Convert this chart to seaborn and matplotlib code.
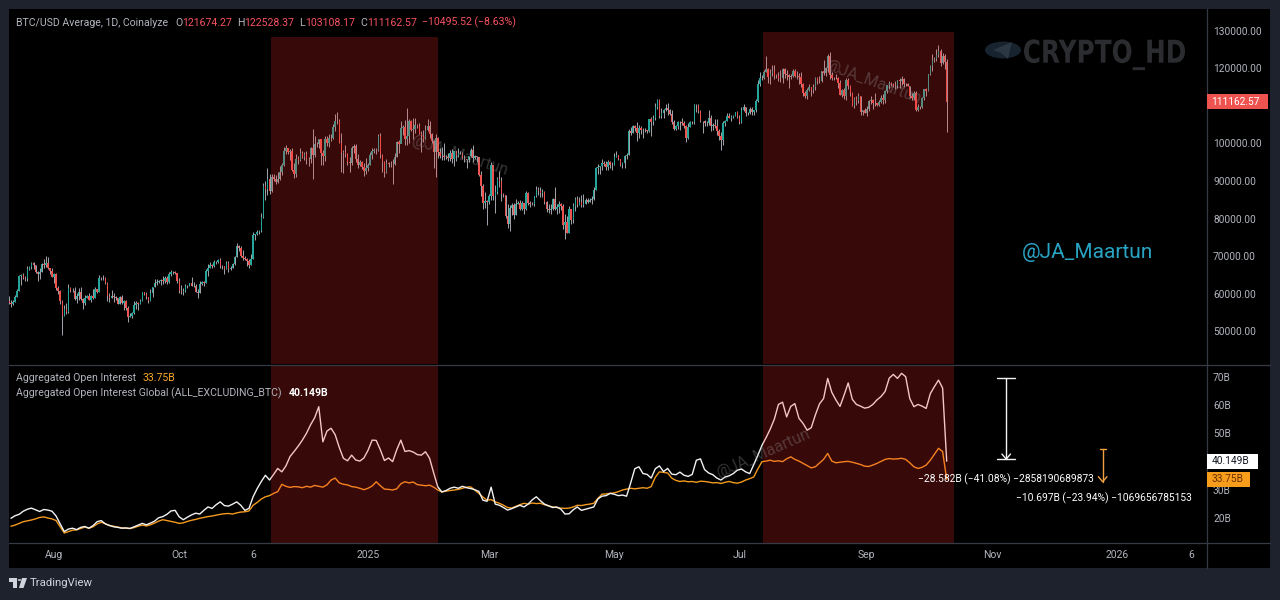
import numpy as np
import pandas as pd
import matplotlib
matplotlib.use("Agg")
import matplotlib.pyplot as plt
import matplotlib.dates as mdates
from matplotlib.lines import Line2D
from matplotlib.patches import Rectangle, Circle, Polygon, PathPatch
from matplotlib.textpath import TextPath
from matplotlib.font_manager import FontProperties
from matplotlib.transforms import Affine2D
import seaborn as sns

W, H = 1280, 600

# BTC/USD daily candles in thousands of USD, first candle 2024-07-10
first_open = 58.0
close = [
    57.7, 57.3, 57.9, 59.2, 60.8, 64.8, 65.1, 64.1, 63.9, 66.7, 67.1, 68.2, 67.6, 65.9, 65.4, 65.8, 67.9, 67.8, 68.3, 66.8, 66.2, 64.6,
    65.4, 61.5, 60.7, 58.1, 54.0, 56.0, 55.1, 61.7, 60.9, 60.9, 58.7, 59.4, 60.6, 58.7, 57.5, 58.9, 59.5, 58.4, 59.5, 59.0, 61.2, 60.4, 64.1, 64.2, 64.2, 62.8, 59.4, 59.0, 59.4, 59.1, 58.9,
    57.3, 59.1, 57.5, 58.0, 56.2, 53.9, 54.2, 54.9, 57.0, 57.6, 57.3, 58.1, 60.5, 60.0, 59.2, 58.2, 60.3, 61.8, 62.9, 63.2, 63.4, 63.6, 63.3, 64.3, 63.1, 65.2, 65.9, 65.8, 65.6, 63.3,
    60.8, 60.6, 60.8, 62.1, 62.1, 62.8, 62.2, 62.1, 60.6, 60.3, 62.5, 63.2, 62.9, 66.1, 67.0, 67.6, 67.4, 68.4, 68.4, 69.0, 67.4, 67.4, 66.7, 68.2, 66.6, 67.0, 68.0, 69.9, 72.7, 72.3, 70.2,
    69.5, 69.4, 68.8, 67.8, 69.4, 75.6, 75.9, 76.5, 76.7, 80.5, 88.7, 88.0, 90.5, 87.3, 91.1, 90.6, 89.8, 90.5, 92.3, 94.3, 98.0, 98.9, 97.7, 98.0, 93.0, 91.9, 95.9, 95.6, 97.5, 96.4,
    97.3, 95.9, 96.0, 98.8, 97.0, 99.9, 99.9, 101.2, 97.4, 96.7, 101.2, 100.0, 101.5, 101.4, 104.5, 106.1, 106.1, 100.2, 97.5, 97.8, 97.2, 95.1, 94.7, 98.7, 99.4, 95.8, 94.2, 95.2, 93.7, 92.8, 93.4,
    94.4, 96.9, 98.1, 98.2, 98.3, 102.1, 96.9, 95.0, 92.5, 94.7, 94.6, 94.5, 94.5, 96.5, 100.5, 99.9, 104.1, 104.4, 101.1, 102.0, 106.1, 103.7, 103.9, 104.8, 104.7, 102.6, 102.1, 101.3, 103.7, 104.7, 102.4,
    100.6, 97.7, 101.4, 97.8, 96.6, 96.6, 96.5, 96.5, 96.1, 97.4, 95.8, 97.9, 96.6, 97.5, 97.6, 96.1, 95.8, 95.5, 96.6, 98.3, 96.1, 96.6, 96.3, 91.5, 88.7, 84.3, 84.7, 84.4,
    86.0, 94.3, 86.1, 87.2, 90.6, 89.9, 86.7, 86.2, 80.6, 78.5, 82.9, 83.7, 81.1, 84.0, 84.3, 82.6, 84.1, 82.7, 86.9, 84.2, 84.0, 83.8, 86.1, 87.5, 87.4, 86.9, 87.2, 84.4, 82.6, 82.3, 82.5,
    85.2, 82.5, 83.1, 83.8, 83.5, 78.4, 79.1, 76.3, 82.6, 79.6, 83.4, 85.3, 83.7, 84.5, 83.6, 84.0, 84.9, 84.5, 85.1, 85.2, 87.5, 93.4, 93.7, 93.9, 94.7, 94.6, 93.8, 95.0, 94.3, 94.2,
    96.5, 96.9, 95.9, 94.3, 94.7, 96.8, 97.0, 103.2, 102.9, 104.6, 104.1, 102.8, 104.2, 103.5, 103.7, 103.5, 103.2, 106.4, 105.6, 106.8, 109.6, 111.7, 107.3, 108.0, 109.0, 109.4, 108.9, 107.8, 105.6, 103.9, 104.6,
    105.7, 105.8, 105.4, 104.7, 101.5, 104.4, 105.6, 105.7, 110.3, 110.2, 108.7, 105.9, 106.0, 105.4, 105.5, 106.8, 104.6, 104.9, 104.6, 103.3, 102.1, 100.9, 105.4, 106.0, 107.3, 106.9, 107.1, 107.3, 108.4, 107.1,
    105.7, 108.8, 109.6, 108.0, 108.2, 109.2, 108.3, 108.9, 111.3, 115.9, 117.5, 117.4, 119.1, 119.8, 117.7, 118.7, 119.3, 117.9, 117.9, 117.3, 117.4, 119.9, 118.5, 118.3, 117.6, 117.9, 119.4, 118.0, 117.9, 117.8, 115.7,
    113.3, 112.5, 114.2, 115.0, 114.1, 115.0, 117.5, 116.7, 116.5, 119.3, 118.7, 120.2, 123.3, 118.3, 117.4, 117.5, 117.4, 116.2, 112.9, 114.3, 112.5, 116.9, 115.4, 113.5, 110.1, 111.8, 111.3, 112.6, 108.4, 108.8, 108.2,
    109.2, 111.2, 111.7, 110.7, 110.7, 110.2, 111.1, 112.1, 111.5, 113.9, 115.5, 116.1, 115.9, 115.3, 115.4, 116.8, 116.5, 117.1, 115.7, 115.7, 115.3, 112.7, 112.0, 113.3, 109.0, 109.7, 109.7, 112.1, 114.4, 114.0,
    118.6, 120.6, 122.3, 122.4, 123.5, 124.7, 121.4, 123.3, 121.67, 111.16,
]
high = [
    59.4, 58.5, 58.5, 59.8, 61.3, 64.9, 65.4, 65.6, 64.8, 67.4, 67.5, 68.4, 68.4, 67.8, 66.1, 66.9, 68.2, 69.4, 70.0, 69.9, 66.9, 66.8,
    65.6, 65.6, 62.2, 61.1, 58.3, 57.0, 57.7, 62.7, 61.8, 61.5, 61.8, 60.3, 61.6, 61.8, 58.8, 59.8, 59.7, 60.2, 59.6, 61.4, 61.8, 61.4, 64.9, 64.5, 65.0, 64.4, 63.1, 60.2, 61.1, 60.2, 59.4,
    59.0, 59.4, 59.8, 58.5, 58.3, 56.9, 54.8, 55.3, 58.1, 58.0, 57.9, 58.6, 60.6, 60.6, 60.4, 59.2, 61.3, 61.8, 63.9, 64.0, 63.6, 64.0, 64.7, 64.7, 64.8, 65.8, 66.4, 66.2, 66.0, 65.5,
    64.1, 62.4, 61.5, 62.5, 62.4, 63.0, 64.4, 63.2, 62.5, 61.3, 63.4, 63.5, 63.3, 66.5, 67.9, 68.4, 68.0, 68.9, 68.7, 69.4, 69.5, 67.8, 67.5, 68.8, 68.7, 67.4, 68.3, 70.2, 73.6, 72.9, 72.7,
    71.6, 70.0, 69.5, 69.4, 70.6, 76.4, 76.0, 77.0, 76.9, 81.4, 89.6, 89.9, 93.4, 91.8, 91.8, 91.9, 91.6, 92.5, 94.0, 94.9, 99.0, 99.5, 98.8, 98.6, 98.8, 94.7, 97.3, 96.6, 98.7, 98.0,
    97.8, 98.1, 96.3, 99.0, 103.9, 101.9, 100.5, 101.3, 101.2, 98.2, 101.9, 102.0, 102.5, 102.6, 105.1, 107.8, 108.3, 106.4, 102.8, 98.4, 99.5, 97.4, 96.4, 99.4, 99.9, 99.9, 97.3, 95.7, 95.4, 94.8, 96.1,
    94.9, 97.8, 98.9, 98.7, 98.8, 102.5, 102.7, 97.2, 95.3, 95.8, 95.0, 95.4, 95.9, 97.4, 100.7, 100.8, 105.9, 104.9, 106.3, 109.4, 106.4, 106.3, 106.8, 106.9, 105.3, 105.4, 103.2, 103.7, 104.8, 106.4, 106.0,
    102.7, 101.0, 102.5, 101.7, 98.8, 99.2, 100.1, 96.9, 97.4, 98.3, 98.5, 98.1, 97.9, 98.8, 97.9, 97.7, 97.0, 96.0, 96.8, 98.7, 99.5, 96.9, 96.8, 96.5, 92.6, 89.2, 87.0, 85.1,
    86.5, 95.0, 94.4, 88.9, 91.2, 92.8, 91.2, 86.9, 86.4, 84.0, 83.6, 84.3, 84.3, 85.2, 84.7, 85.0, 84.7, 84.1, 87.4, 87.0, 84.8, 84.5, 86.1, 88.7, 88.5, 88.3, 87.8, 87.3, 84.6, 83.8, 83.8,
    85.6, 88.5, 83.9, 84.7, 84.2, 83.8, 81.2, 80.8, 83.5, 82.7, 84.2, 85.8, 86.1, 85.8, 86.4, 86.5, 85.5, 85.4, 85.6, 86.0, 88.5, 93.8, 94.5, 94.0, 95.8, 95.3, 95.3, 95.6, 95.4, 95.2,
    97.4, 97.9, 96.9, 96.0, 95.2, 96.9, 97.6, 103.8, 104.3, 104.9, 104.9, 105.7, 104.9, 104.7, 104.2, 104.0, 103.7, 106.6, 107.0, 107.7, 110.8, 111.9, 111.9, 109.5, 109.3, 110.4, 110.7, 109.3, 108.9, 106.3, 105.0,
    105.9, 105.9, 106.8, 105.9, 105.0, 105.4, 105.9, 106.0, 110.6, 110.4, 110.4, 108.9, 106.1, 106.2, 106.0, 108.9, 107.7, 105.5, 106.6, 106.6, 103.9, 103.1, 106.1, 106.3, 108.1, 108.0, 107.7, 107.6, 108.5, 108.7,
    107.5, 109.8, 110.5, 109.7, 108.4, 109.7, 109.7, 109.0, 111.9, 116.8, 118.9, 118.2, 119.5, 123.2, 120.0, 119.9, 120.9, 120.8, 118.6, 118.9, 119.6, 120.2, 120.1, 119.5, 118.4, 118.4, 119.8, 119.8, 119.2, 118.8, 118.9,
    116.1, 114.0, 114.7, 115.7, 115.1, 115.7, 117.6, 117.6, 117.9, 119.3, 122.3, 120.3, 123.7, 124.4, 119.0, 117.8, 118.5, 117.6, 116.8, 114.6, 114.8, 117.4, 117.4, 115.6, 113.6, 112.4, 112.6, 113.4, 112.6, 108.9, 109.4,
    109.9, 111.6, 112.6, 111.8, 113.3, 110.9, 111.6, 112.8, 113.2, 114.3, 115.5, 116.7, 116.3, 116.1, 116.7, 117.0, 117.3, 117.9, 117.5, 116.2, 116.0, 115.4, 113.3, 113.9, 113.9, 110.4, 110.0, 112.3, 114.4, 114.8,
    118.6, 121.0, 123.8, 122.9, 125.2, 126.2, 125.0, 124.2, 123.9, 122.53,
]
low = [
    57.2, 56.5, 57.0, 57.8, 59.2, 60.7, 62.4, 63.9, 63.3, 63.3, 66.4, 66.7, 66.6, 65.5, 63.5, 64.0, 65.7, 66.8, 67.1, 66.6, 65.4, 64.5,
    62.8, 61.0, 60.0, 57.2, 49.0, 54.0, 54.6, 54.8, 60.4, 60.6, 58.5, 57.7, 58.5, 58.4, 56.1, 57.0, 58.8, 58.4, 57.9, 58.7, 58.8, 60.2, 60.4, 63.8, 63.7, 62.7, 58.1, 57.9, 58.9, 57.9, 58.4,
    57.2, 57.2, 57.4, 55.7, 55.7, 52.6, 53.8, 53.7, 54.6, 56.1, 55.6, 57.4, 58.0, 59.6, 58.7, 57.6, 58.2, 59.3, 61.8, 62.4, 62.8, 62.4, 62.7, 62.8, 62.7, 62.8, 64.8, 65.4, 65.3, 62.9,
    60.2, 59.9, 59.8, 60.5, 61.7, 62.1, 62.1, 61.8, 60.4, 58.9, 60.3, 62.4, 62.0, 62.9, 64.8, 66.8, 66.8, 67.1, 67.9, 68.3, 66.8, 66.6, 65.3, 66.5, 65.7, 66.4, 66.8, 67.6, 69.7, 71.5, 69.7,
    69.0, 69.1, 67.5, 66.8, 67.7, 69.3, 74.4, 75.6, 75.8, 76.5, 80.2, 85.1, 86.3, 86.7, 87.1, 90.1, 89.3, 89.4, 90.4, 91.7, 94.0, 97.3, 97.2, 95.7, 92.6, 90.8, 91.1, 94.6, 95.4, 96.1,
    95.7, 94.5, 94.0, 94.7, 90.5, 96.5, 99.0, 98.7, 94.3, 94.2, 95.3, 99.3, 99.2, 100.7, 101.2, 103.4, 105.3, 100.0, 92.3, 92.2, 96.5, 94.2, 92.5, 94.3, 97.6, 95.2, 93.4, 94.0, 93.3, 91.4, 92.0,
    92.8, 94.2, 96.0, 97.5, 97.3, 97.9, 96.1, 92.5, 91.2, 92.2, 93.8, 93.8, 89.3, 94.4, 96.5, 97.4, 100.1, 102.3, 99.5, 99.6, 100.1, 103.3, 101.3, 102.8, 104.1, 102.5, 97.8, 100.3, 101.3, 103.3, 101.5,
    100.2, 93.4, 91.2, 96.2, 96.2, 95.7, 95.7, 95.9, 95.3, 95.4, 94.9, 94.1, 95.3, 96.3, 97.1, 96.0, 95.1, 93.5, 95.1, 96.5, 95.1, 95.8, 95.2, 91.3, 86.1, 82.5, 82.8, 78.4,
    83.9, 85.1, 85.1, 81.5, 86.7, 88.4, 84.7, 85.8, 80.1, 77.5, 76.6, 80.9, 79.9, 81.1, 83.9, 82.2, 82.4, 81.2, 82.3, 83.7, 83.2, 83.7, 83.3, 85.9, 86.3, 85.9, 85.9, 83.8, 81.7, 81.6, 81.3,
    82.4, 82.3, 81.2, 81.6, 82.3, 77.2, 74.5, 76.2, 76.2, 78.6, 78.9, 82.0, 83.1, 83.6, 83.0, 83.1, 83.9, 84.1, 84.4, 83.9, 85.1, 87.5, 91.8, 91.8, 92.9, 93.9, 93.0, 92.9, 93.6, 92.9,
    94.2, 96.3, 95.7, 94.1, 93.5, 93.4, 95.8, 97.0, 102.3, 102.8, 103.2, 100.7, 101.4, 102.6, 101.4, 103.1, 102.7, 103.1, 102.1, 104.9, 106.2, 109.3, 106.8, 106.9, 106.7, 108.6, 107.5, 107.5, 105.3, 103.7, 103.7,
    103.9, 103.7, 104.9, 104.2, 100.4, 101.1, 104.4, 105.1, 105.3, 108.4, 108.2, 105.7, 102.8, 104.6, 104.6, 105.0, 103.4, 103.7, 104.1, 102.3, 100.9, 98.2, 99.6, 104.7, 105.9, 106.7, 106.1, 106.9, 107.2, 106.8,
    105.3, 105.5, 108.6, 107.3, 107.6, 107.8, 107.5, 107.5, 108.4, 111.1, 115.4, 116.9, 117.2, 118.9, 116.0, 115.8, 117.9, 117.2, 117.5, 116.6, 116.3, 116.2, 117.4, 117.0, 114.7, 117.1, 117.8, 117.8, 117.1, 115.9, 115.1,
    112.7, 112.0, 111.9, 113.9, 112.7, 113.4, 114.3, 115.9, 116.0, 116.4, 118.1, 118.0, 118.9, 117.2, 116.8, 117.0, 117.1, 114.7, 112.8, 112.4, 111.8, 111.7, 114.5, 112.7, 109.9, 109.4, 110.3, 110.9, 107.5, 107.5, 108.0,
    107.3, 108.6, 110.6, 109.3, 110.1, 110.0, 110.0, 110.7, 110.6, 110.9, 113.5, 114.4, 115.3, 115.0, 114.4, 114.8, 114.8, 115.5, 115.1, 115.4, 115.2, 112.2, 111.7, 111.5, 108.6, 108.7, 109.3, 109.4, 111.6, 112.7,
    113.9, 118.1, 119.4, 121.6, 122.0, 123.1, 120.7, 121.1, 119.7, 103.11,
]

# open interest in billions of USD, every second day from 2024-07-11
oi_alts = [
    20.0, 20.9, 21.4, 22.5, 23.2, 23.6, 23.0, 22.4, 23.1, 22.9,
    22.5, 20.8, 18.0, 15.3, 16.2, 16.5, 16.0, 16.8, 17.1, 16.5,
    17.4, 18.8, 19.2, 18.0, 17.5, 17.0, 16.8, 16.5, 16.6, 16.4,
    17.0, 17.6, 18.2, 17.7, 18.3, 19.0, 20.2, 20.6, 21.4, 22.6,
    22.8, 20.5, 19.5, 20.4, 21.2, 21.8, 21.5, 22.8, 24.0, 23.5,
    24.8, 25.8, 24.5, 24.3, 25.0, 25.8, 24.6, 22.8, 23.5, 27.6,
    30.5, 33.0, 35.2, 33.5, 35.5, 37.6, 36.4, 38.5, 41.8, 43.6,
    45.5, 47.6, 50.0, 53.0, 55.5, 59.4, 47.0, 50.8, 51.8, 49.5,
    45.0, 41.2, 40.3, 42.3, 40.6, 40.2, 41.3, 44.0, 47.6, 47.5,
    44.2, 40.4, 41.3, 40.0, 44.2, 47.6, 43.6, 43.9, 43.4, 42.5,
    42.3, 43.5, 41.2, 36.0, 31.1, 29.3, 29.8, 30.6, 31.0, 30.6,
    31.3, 30.8, 30.5, 30.1, 29.5, 26.4, 26.0, 31.0, 25.0, 24.6,
    23.8, 22.9, 23.4, 24.0, 24.6, 24.0, 25.0, 26.5, 27.6, 26.2,
    25.0, 24.4, 23.8, 24.0, 23.2, 21.5, 21.6, 23.0, 24.0, 22.8,
    23.2, 23.6, 24.0, 26.8, 27.8, 28.0, 28.8, 28.5, 28.0, 28.2,
    27.8, 32.5, 37.5, 38.2, 35.8, 35.5, 34.2, 37.5, 38.5, 36.5,
    37.6, 35.6, 35.4, 36.3, 35.2, 34.8, 35.5, 40.5, 41.0, 37.2,
    36.0, 35.4, 34.2, 33.5, 34.6, 35.0, 35.8, 37.0, 37.4, 36.4,
    35.8, 39.0, 42.3, 45.8, 48.5, 51.5, 55.0, 60.2, 61.0, 55.8,
    59.5, 60.5, 55.3, 53.5, 51.1, 52.0, 56.5, 60.4, 62.3, 69.4,
    64.5, 61.8, 59.5, 63.5, 67.8, 62.0, 60.2, 59.6, 58.9, 59.2,
    60.2, 61.8, 63.0, 64.8, 69.5, 70.8, 69.4, 71.2, 70.0, 62.3,
    59.4, 60.2, 59.6, 58.8, 64.0, 66.5, 68.8, 66.0, 40.149,
]
oi_btc = [
    17.2, 17.6, 18.2, 18.8, 19.1, 19.4, 19.8, 20.3, 20.5, 20.1,
    19.8, 19.2, 17.0, 14.8, 15.3, 15.8, 15.9, 16.4, 16.9, 16.5,
    17.0, 18.0, 18.6, 18.1, 17.4, 17.2, 16.9, 16.6, 16.5, 16.4,
    16.7, 17.2, 17.6, 17.3, 17.7, 18.3, 19.0, 19.5, 19.2, 18.9,
    18.6, 18.2, 18.4, 18.9, 19.3, 19.6, 20.0, 20.3, 20.6, 20.8,
    21.1, 21.4, 21.6, 21.7, 21.5, 21.9, 22.2, 22.3, 22.6, 24.6,
    25.6, 26.8, 27.6, 28.0, 28.8, 29.4, 32.0, 31.3, 30.9, 31.2,
    31.1, 30.8, 31.3, 31.0, 31.6, 31.3, 31.0, 31.8, 33.5, 34.2,
    32.5, 32.0, 31.8, 31.2, 31.0, 30.6, 30.1, 30.6, 31.4, 32.9,
    31.5, 30.3, 30.2, 30.0, 30.4, 32.2, 32.9, 32.5, 32.8, 31.9,
    31.7, 31.5, 31.7, 31.0, 30.0, 29.3, 29.6, 29.8, 30.0, 30.2,
    30.6, 31.0, 31.1, 30.0, 28.8, 27.5, 26.4, 26.6, 25.8, 25.3,
    24.6, 23.8, 23.6, 24.2, 24.8, 25.3, 25.0, 25.4, 25.2, 25.3,
    24.8, 24.4, 24.0, 23.8, 23.6, 23.5, 23.6, 24.0, 24.6, 24.5,
    24.8, 25.0, 25.3, 27.0, 28.5, 28.6, 28.8, 29.0, 29.4, 30.0,
    30.3, 30.6, 30.4, 30.6, 30.8, 30.6, 31.2, 34.5, 36.4, 36.2,
    36.0, 34.2, 33.4, 33.0, 33.2, 32.9, 33.0, 32.7, 33.1, 33.0,
    32.8, 32.5, 32.6, 32.3, 32.7, 33.0, 32.6, 32.4, 32.8, 33.5,
    34.0, 34.6, 37.5, 40.0, 40.2, 40.5, 40.1, 40.3, 40.0, 41.0,
    41.7, 40.8, 40.2, 39.4, 38.6, 37.8, 38.2, 39.5, 40.8, 42.9,
    40.2, 39.6, 39.8, 40.0, 40.1, 39.8, 39.4, 39.0, 38.4, 38.3,
    38.8, 39.4, 40.1, 40.8, 41.1, 40.9, 41.0, 41.2, 40.8, 39.6,
    38.2, 37.6, 38.0, 38.8, 40.5, 42.6, 44.7, 43.6, 33.75,
]

# highlighted periods: start, end, top of the box on the price pane
shade_periods = [
    ("2024-11-14 12:00", "2025-02-03 22:00", 128240),
    ("2025-07-12 12:00", "2025-10-13 08:00", 129570),
]

price_ticks = [50000, 60000, 70000, 80000, 90000, 100000, 120000, 130000]
oi_ticks = [20, 30, 50, 60, 70]
x_tick_dates = ["2024-08-01", "2024-10-01", "2024-11-06", "2025-01-01", "2025-03-01", "2025-05-01",
                "2025-07-01", "2025-09-01", "2025-11-01", "2026-01-01", "2026-02-06"]
x_tick_labels = ["Aug", "Oct", "6", "2025", "Mar", "May", "Jul", "Sep", "Nov", "2026", "6"]

last_open, last_high, last_low, last_close = 121674.27, 122528.37, 103108.17, 111162.57
last_change = "\u221210495.52 (\u22128.63%)"
oi_btc_last = "33.75B"
oi_alts_last = "40.149B"

# measure tools drawn on the OI pane: date, from, to, label
alts_drop = ("2025-11-08", 69.58, 40.9, "\u221228.582B (\u221241.08%) \u22122858190689873")
btc_drop = ("2025-12-25", 44.6, 32.9, "\u221210.697B (\u221223.94%) \u22121069656785153")

BG = "#1e222d"
GRID = "#363a45"
AXTXT = "#b2b5be"
UP, DOWN = "#26a69a", "#ef5350"
WICK = "#a3a6ad"
ORANGE = "#f39a1f"
WHITE = "#f2f2f2"
SHADE = "#ff2a2a"

sns.set_theme(style="dark", rc={"axes.facecolor": "black", "figure.facecolor": BG})
plt.rcParams["font.family"] = ["Roboto", "DejaVu Sans"]


def fx(px):
    return px / W


def fy(py):
    return 1 - py / H


fig = plt.figure(figsize=(W / 100, H / 100), dpi=100)
fig.patches.append(Rectangle((fx(9), fy(567.7)), fx(1270) - fx(9), fy(9) - fy(567.7),
                             transform=fig.transFigure, fc="black", ec="none", zorder=-10))

ax1 = fig.add_axes([fx(9), fy(364), fx(1206.5) - fx(9), (364 - 9) / H])
ax2 = fig.add_axes([fx(9), fy(543.3), fx(1206.5) - fx(9), (543.3 - 365) / H], sharex=ax1)

# candles
dates = pd.date_range("2024-07-10", periods=len(close), freq="D")
t = mdates.date2num(dates)
c = np.array(close) * 1000
hi = np.array(high) * 1000
lo = np.array(low) * 1000
o = np.concatenate([[first_open * 1000], c[:-1]])
cols = np.where(c >= o, UP, DOWN)
ax1.vlines(t, lo, hi, colors=WICK, linewidth=0.7, zorder=2)
ax1.bar(t, np.abs(c - o), bottom=np.minimum(o, c), width=0.7, color=cols, linewidth=0, zorder=3)

# open interest lines
oi_dates = pd.date_range("2024-07-11", periods=len(oi_alts), freq="2D")
df = pd.DataFrame({"t": mdates.date2num(oi_dates), "btc": oi_btc, "alts": oi_alts})
sns.lineplot(data=df, x="t", y="btc", ax=ax2, color=ORANGE, linewidth=1.0, zorder=3)
sns.lineplot(data=df, x="t", y="alts", ax=ax2, color=WHITE, linewidth=1.0, zorder=4)

t0 = mdates.date2num(pd.Timestamp("2024-07-10"))
ylim1 = (41355, 135770)
ax1.set_xlim(t0 + 0.05, t0 + 583.6)
ax1.set_ylim(*ylim1)
ax2.set_ylim(11.17, 74.13)

for start, end, top in shade_periods:
    x0 = mdates.date2num(pd.Timestamp(start))
    x1 = mdates.date2num(pd.Timestamp(end))
    ax1.add_patch(Rectangle((x0, ylim1[0]), x1 - x0, top - ylim1[0], fc=SHADE, ec="none", alpha=0.22, zorder=6))
    ax2.axvspan(x0, x1, fc=SHADE, ec="none", alpha=0.22, zorder=6)

for ax in (ax1, ax2):
    ax.set_facecolor("black")
    ax.grid(False)
    for sp in ax.spines.values():
        sp.set_visible(False)
    ax.yaxis.tick_right()
    ax.tick_params(axis="y", length=0, pad=4.7, labelsize=7.3, labelcolor=AXTXT)
    ax.set_xlabel("")
    ax.set_ylabel("")

ax1.set_yticks(price_ticks)
ax1.set_yticklabels([f"{v:.2f}" for v in price_ticks])
ax1.tick_params(axis="x", length=0, labelbottom=False)
ax2.set_yticks(oi_ticks)
ax2.set_yticklabels([f"{v}B" for v in oi_ticks])
ax2.set_xticks(mdates.date2num(pd.to_datetime(x_tick_dates)))
ax2.set_xticklabels(x_tick_labels)
ax2.tick_params(axis="x", length=0, pad=5, labelsize=7.5, labelcolor=AXTXT)

# measure arrows
for (day, v0, v1, txt), col, cap, tx, ty in [
    (alts_drop, WHITE, 4.4, 917.5, 479),
    (btc_drop, "#f0a040", 1.5, 1015.5, 498),
]:
    xd = mdates.date2num(pd.Timestamp(day))
    ax2.plot([xd, xd], [v0, v1], color=col, lw=1.0, zorder=7)
    ax2.plot([xd - cap, xd + cap], [v0, v0], color=col, lw=1.0, zorder=7)
    if col == WHITE:
        ax2.plot([xd - cap, xd + cap], [v1, v1], color=col, lw=1.0, zorder=7)
    ax2.plot([xd - 2.1, xd, xd + 2.1], [v1 + 1.8, v1, v1 + 1.8], color=col, lw=1.0, zorder=7)
    fig.text(fx(tx), fy(ty), txt, color="white", fontsize=7.4, ha="left", va="center")

# separators
for xs, ys in [([9, 1270], [364.5, 364.5]), ([9, 1270], [543.3, 543.3]), ([1206.5, 1206.5], [9, 567.7])]:
    fig.add_artist(Line2D([fx(v) for v in xs], [fy(v) for v in ys], transform=fig.transFigure,
                          color=GRID, lw=0.9, zorder=5))


def chain(x, y, parts, size):
    r = fig.canvas.get_renderer()
    for txt, col, weight, gap in parts:
        x += gap
        tt = fig.text(fx(x), fy(y), txt, color=col, fontsize=size, fontweight=weight, ha="left", va="center")
        x += tt.get_window_extent(renderer=r).width


RED = "#f7525f"
chain(16, 22.5, [
    ("BTC/USD Average, 1D, Coinalyze", AXTXT, "normal", 0),
    ("O", AXTXT, "normal", 7), (f"{last_open:.2f}", RED, "normal", 0),
    ("H", AXTXT, "normal", 5), (f"{last_high:.2f}", RED, "normal", 0),
    ("L", AXTXT, "normal", 5), (f"{last_low:.2f}", RED, "normal", 0),
    ("C", AXTXT, "normal", 5), (f"{last_close:.2f}", RED, "normal", 0),
    (last_change, RED, "normal", 5),
], 7.6)
chain(16, 378.3, [("Aggregated Open Interest", AXTXT, "normal", 0),
                  (oi_btc_last, "#f7a528", "normal", 6)], 7.6)
chain(16, 393.3, [("Aggregated Open Interest Global (ALL_EXCLUDING_BTC)", AXTXT, "normal", 0),
                  (oi_alts_last, "white", "bold", 7)], 7.6)


def axis_tag(ax, value, text, face, color, width, height=15):
    ypix = ax.transData.transform((0, value))[1]
    yf = ypix / fig.bbox.height
    fig.patches.append(Rectangle((fx(1206.5), yf - height / 2 / H), width / W, height / H,
                                 transform=fig.transFigure, fc=face, ec="none", zorder=6))
    fig.text(fx(1206.5 + 5), yf, text, color=color, fontsize=7.3, ha="left", va="center", zorder=7)


axis_tag(ax1, last_close, f"{last_close:.2f}", "#ef5350", "white", 61)
axis_tag(ax2, 40.149, oi_alts_last, "white", "#131722", 51)
axis_tag(ax2, 33.75, oi_btc_last, "#f89c1c", "#6b3000", 43)

# watermarks
fig.text(fx(1022), fy(253), "@JA_Maartun", color="#29a3c3", fontsize=15, ha="left", va="center")
for cx, cy, rot in [(459, 155, -18), (873, 82, -20), (763, 454, 24)]:
    fig.text(fx(cx), fy(cy), "@JA_Maartun", color="#9a9a9a", alpha=0.33, fontsize=11.5,
             rotation=rot, ha="center", va="center", rotation_mode="anchor")
fig.patches.append(Circle((fx(1003), fy(50)), 18 / W, transform=fig.transFigure, fc="#17232f", ec="none"))
fig.patches.append(Polygon([(fx(993), fy(50)), (fx(1012), fy(42)), (fx(1008), fy(59)), (fx(1001), fy(53))],
                           closed=True, transform=fig.transFigure, fc="#2c3744", ec="none"))

# CRYPTO_HD mark fitted to its box (x 1024..1185, caps 39.3..62.7 px from top)
prop = FontProperties(family="DejaVu Sans", weight="bold")
tp = TextPath((0, 0), "CRYPTO_HD", size=10, prop=prop)
ext = tp.get_extents()
cap = TextPath((0, 0), "CRYPT", size=10, prop=prop).get_extents().y1
sx = (1185 - 1024) / ext.width
sy = (62.7 - 39.3) / cap
tr = Affine2D().translate(-ext.x0, 0).scale(sx / W, sy / H).translate(fx(1024), fy(62.7)) + fig.transFigure
fig.patches.append(PathPatch(tp, transform=tr, fc="#2b2c2f", ec="none"))

# TradingView footer
LOGO = "#d1d4dc"
fig.patches.append(Rectangle((fx(9), fy(581.5)), 7.5 / W, 3.5 / H, transform=fig.transFigure, fc=LOGO, ec="none"))
fig.patches.append(Rectangle((fx(13), fy(588)), 3.5 / W, 10 / H, transform=fig.transFigure, fc=LOGO, ec="none"))
fig.patches.append(Circle((fx(19.5), fy(580)), 1.8 / W, transform=fig.transFigure, fc=LOGO, ec="none"))
fig.patches.append(Polygon([(fx(22), fy(578)), (fx(27), fy(578)), (fx(23.5), fy(588)), (fx(19), fy(588))],
                           closed=True, transform=fig.transFigure, fc=LOGO, ec="none"))
fig.text(fx(30), fy(583), "TradingView", color=LOGO, fontsize=8.2, ha="left", va="center")

fig.savefig("out.png", dpi=100, facecolor=BG)
